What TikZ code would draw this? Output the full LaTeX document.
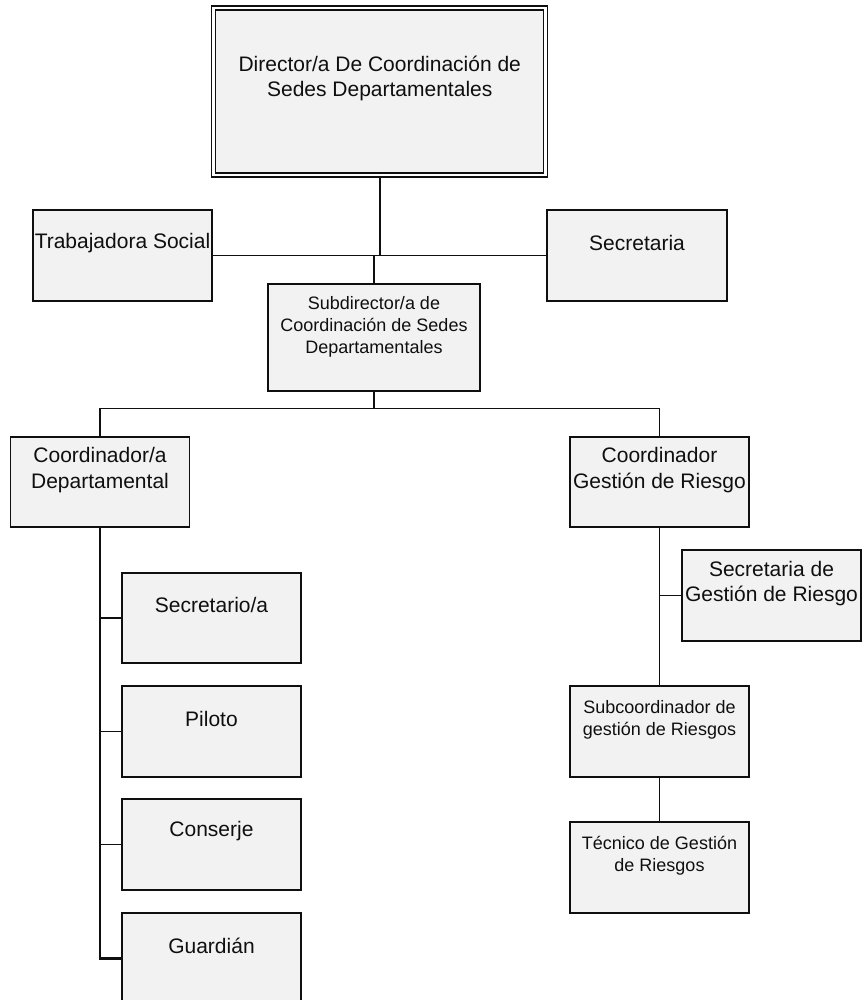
\documentclass[tikz,border=0pt]{standalone}
\usepackage{fontspec}
\setmainfont{Liberation Sans}
\definecolor{boxfill}{RGB}{242,242,242}
\definecolor{inkc}{RGB}{15,15,15}
\begin{document}
\begin{tikzpicture}[x=1pt,y=-1pt,
  orgbox/.style={draw=inkc, line width=1.5pt, fill=boxfill, inner sep=0pt, minimum width=179pt, minimum height=90pt},
  txt/.style={align=center, inner sep=0pt, text=inkc, font=\fontsize{21}{25.5}\selectfont},
  txts/.style={align=center, inner sep=0pt, text=inkc, font=\fontsize{18}{22}\selectfont},
  link/.style={draw=inkc, line width=1.8pt},
  spine/.style={draw=inkc, line width=2.4pt}]
\useasboundingbox (0,0) rectangle (863,1000);
\clip (0,0) rectangle (863,1000);
% boxes
\node[orgbox, double, double distance=2.6pt, line width=1.3pt, minimum width=332pt, minimum height=167pt] (dir) at (379.75,91.5) {};
\node[orgbox, minimum height=91pt] (trab) at (122.5,255.5) {};
\node[orgbox, minimum width=180pt, minimum height=91pt] (sec) at (637,255.5) {};
\node[orgbox, minimum width=212pt, minimum height=107pt] (sub) at (374,337.5) {};
\node[orgbox] (coord) at (100,482) {};
\node[orgbox] (cgr) at (659.5,482) {};
\node[orgbox, minimum height=91pt] (secgr) at (771.5,595.5) {};
\node[orgbox, minimum height=91pt] (subgr) at (659.5,731.5) {};
\node[orgbox, minimum height=91pt] (tec) at (659.5,867.5) {};
\node[orgbox] (secr) at (211.5,618) {};
\node[orgbox, minimum height=91pt] (pil) at (211.5,731.5) {};
\node[orgbox, minimum height=91pt] (cons) at (211.5,844.5) {};
\node[orgbox, minimum height=91pt] (guard) at (211.5,958.5) {};
% texts
\node[txt] (dirt) at ([yshift=13pt]dir.center) {Director/a De Coordinación de\\Sedes Departamentales};
\node[txt] (trabt) at ([yshift=12.5pt]trab.center) {Trabajadora Social};
\node[txt] (sect) at ([yshift=13pt]sec.center) {Secretaria};
\node[txts] (subt) at ([yshift=11pt]sub.center) {Subdirector/a de\\Coordinación de Sedes\\Departamentales};
\node[txt] (coordt) at ([yshift=12pt]coord.center) {Coordinador/a\\Departamental};
\node[txt] (cgrt) at ([yshift=12pt]cgr.center) {Coordinador\\Gestión de Riesgo};
\node[txt] (secgrt) at ([yshift=12pt]secgr.center) {Secretaria de\\Gestión de Riesgo};
\node[txts] (subgrt) at ([yshift=11.5pt]subgr.center) {Subcoordinador de\\gestión de Riesgos};
\node[txts] (tect) at ([yshift=11.5pt]tec.center) {Técnico de Gestión\\de Riesgos};
\node[txt] (secrt) at ([yshift=13pt]secr.center) {Secretario/a};
\node[txt] (pilt) at ([yshift=13pt]pil.center) {Piloto};
\node[txt] (const) at ([yshift=13pt]cons.center) {Conserje};
\node[txt] (guardt) at ([yshift=13pt]guard.center) {Guardián};
% connectors
\coordinate (j1) at (dir.south |- trab.east);
\coordinate (j2) at (374,408.5);
\draw[link] (dir.south) -- (j1);
\draw[link] (trab.east) -- (sec.west);
\draw[link] (sub.north) -- (sub.north |- trab.east);
\draw[link] (sub.south) -- (j2);
\draw[link] (coord.north) |- (j2) -| (cgr.north);
\draw[spine] (coord.south) |- (guard.west);
\draw[link] (coord.south |- secr.west) -- (secr.west);
\draw[link] (coord.south |- pil.west) -- (pil.west);
\draw[link] (coord.south |- cons.west) -- (cons.west);
\draw[link] (cgr.south) -- (subgr.north);
\draw[link] (cgr.south |- secgr.west) -- (secgr.west);
\draw[link] (subgr.south) -- (tec.north);
\end{tikzpicture}
\end{document}
